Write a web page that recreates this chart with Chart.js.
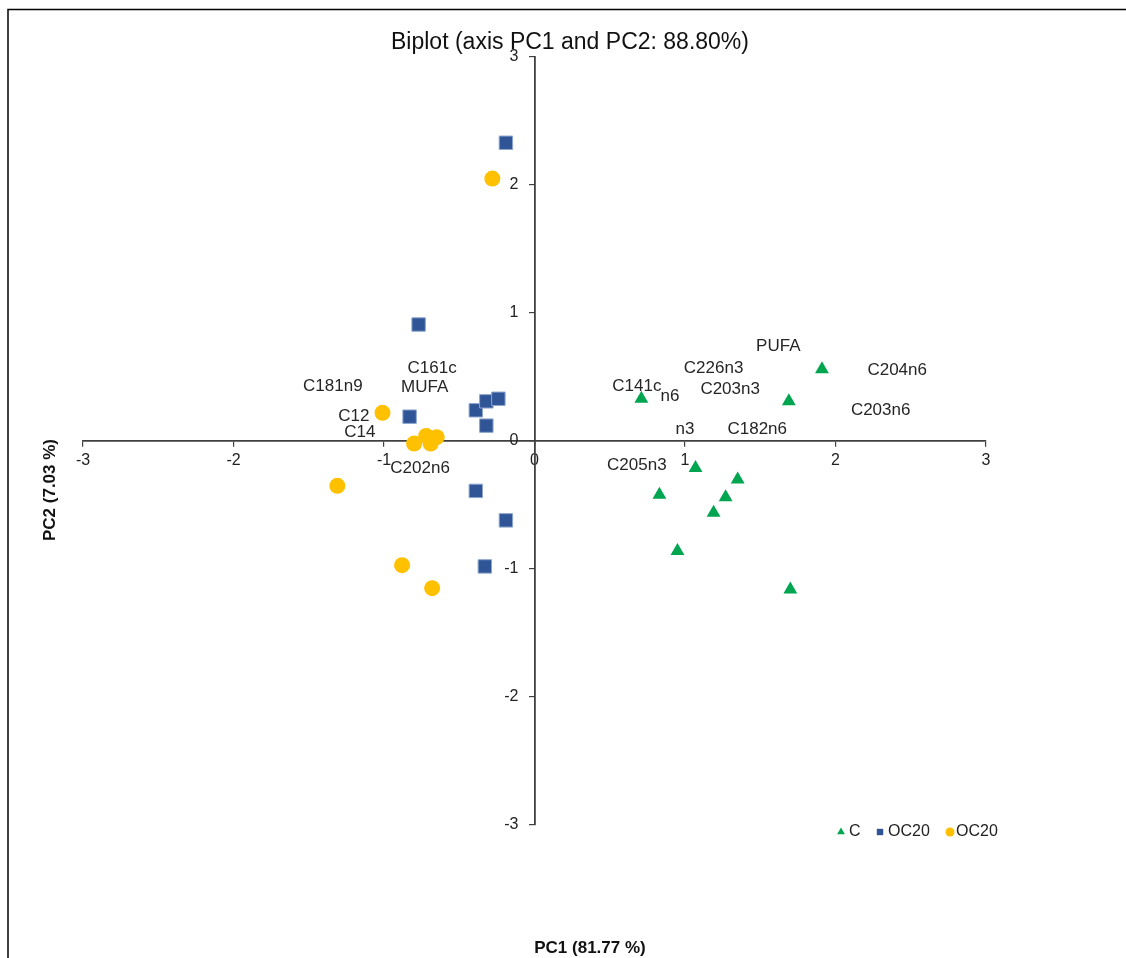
<!DOCTYPE html>
<html>
<head>
<meta charset="utf-8">
<title>Biplot</title>
<script src="https://cdn.jsdelivr.net/npm/chart.js@4.4.0/dist/chart.umd.min.js"></script>
<style>
  html, body { margin: 0; padding: 0; background: #fff; }
  #wrap { width: 1126px; height: 958px; }
</style>
</head>
<body>
<div id="wrap"><canvas id="myChart" width="1126" height="958"></canvas></div>
<script>
// scores of the observations
var cX = [0.71, 1.69, 1.91, 1.07, 1.35, 0.83, 1.27, 1.19, 0.95, 1.70];
var cY = [0.33, 0.31, 0.56, -0.21, -0.30, -0.42, -0.44, -0.56, -0.86, -1.16];

var oc20aX = [-0.19, -0.77, -0.83, -0.39, -0.32, -0.24, -0.32, -0.39, -0.19, -0.33];
var oc20aY = [2.33, 0.91, 0.19, 0.24, 0.31, 0.33, 0.12, -0.39, -0.62, -0.98];

var oc20bX = [-0.28, -1.01, -0.80, -0.72, -0.69, -0.65, -1.31, -0.88, -0.68];
var oc20bY = [2.05, 0.22, -0.02, 0.04, -0.02, 0.03, -0.35, -0.97, -1.15];

// variable labels
var varNames = ['C161c', 'MUFA', 'C181n9', 'C12', 'C14', 'C202n6', 'PUFA', 'C226n3', 'C204n6',
                'C141c', 'n6', 'C203n3', 'C203n6', 'n3', 'C182n6', 'C205n3'];
var varX = [-0.68, -0.73, -1.34, -1.20, -1.16, -0.76, 1.62, 1.19, 2.41, 0.68, 0.90, 1.30, 2.30, 1.00, 1.48, 0.68];
var varY = [0.57, 0.42, 0.43, 0.19, 0.07, -0.21, 0.74, 0.57, 0.55, 0.43, 0.35, 0.40, 0.24, 0.09, 0.09, -0.19];

var ticks = [-3, -2, -1, 0, 1, 2, 3];

var titleText = 'Biplot (axis PC1 and PC2: 88.80%)';
var xTitle = 'PC1 (81.77 %)';
var yTitle = 'PC2 (7.03 %)';

function pts(xs, ys) {
    return xs.map(function (x, i) { return { x: x, y: ys[i] }; });
}

var font = '"Liberation Sans", Arial, sans-serif';

var extras = {
    id: 'extras',
    beforeDraw: function (chart) {
        var ctx = chart.ctx;
        ctx.save();
        ctx.strokeStyle = '#000';
        ctx.lineWidth = 1.5;
        ctx.beginPath();
        ctx.moveTo(8, 958);
        ctx.lineTo(8, 9.5);
        ctx.lineTo(1126, 9.5);
        ctx.stroke();
        ctx.restore();

        // y labels of a crossing axis get no padding, push them left of the tick marks
        var items = chart.scales.y.getLabelItems();
        if (!items.shifted) {
            items.forEach(function (item) { item.options.translation[0] -= 16; });
            items.shifted = true;
        }
    },
    afterDraw: function (chart) {
        var ctx = chart.ctx;
        ctx.save();
        ctx.fillStyle = '#111';
        ctx.textAlign = 'center';
        ctx.textBaseline = 'alphabetic';
        ctx.font = '23px ' + font;
        ctx.fillText(titleText, 570, 49);

        ctx.font = 'bold 17px ' + font;
        ctx.textBaseline = 'middle';
        ctx.fillText(xTitle, 590, 948);
        ctx.save();
        ctx.translate(50, 490);
        ctx.rotate(-Math.PI / 2);
        ctx.fillText(yTitle, 0, 0);
        ctx.restore();

        // variable names
        var meta = chart.getDatasetMeta(3);
        ctx.font = '17px ' + font;
        ctx.fillStyle = '#262626';
        meta.data.forEach(function (el, i) {
            ctx.fillText(varNames[i], el.x, el.y);
        });

        // legend
        var lx = [841, 880, 950];
        var tx = [849, 888, 956];
        ctx.font = '16px ' + font;
        ctx.textAlign = 'left';
        for (var i = 0; i < 3; i++) {
            var ds = chart.data.datasets[i];
            ctx.fillStyle = ds.backgroundColor;
            ctx.strokeStyle = ds.backgroundColor;
            ctx.lineWidth = 1;
            Chart.helpers.drawPoint(ctx, { pointStyle: ds.pointStyle, radius: 4.5, rotation: 0 }, lx[i], 832);
            ctx.fillStyle = '#222';
            ctx.fillText(ds.label, tx[i], 832);
        }
        ctx.restore();
    }
};

var ctx = document.getElementById('myChart').getContext('2d');
var myChart = new Chart(ctx, {
    type: 'scatter',
    data: {
        datasets: [{
            label: 'C',
            data: pts(cX, cY),
            pointStyle: 'triangle',
            pointRadius: 8,
            backgroundColor: '#00A550',
            borderColor: '#00A550',
            borderWidth: 0
        }, {
            label: 'OC20',
            data: pts(oc20aX, oc20aY),
            pointStyle: 'rect',
            pointRadius: 9.5,
            backgroundColor: '#2F5597',
            borderColor: '#8FA6CF',
            borderWidth: 1
        }, {
            label: 'OC20',
            data: pts(oc20bX, oc20bY),
            pointStyle: 'circle',
            pointRadius: 8,
            backgroundColor: '#FFC000',
            borderColor: '#FFC000',
            borderWidth: 0
        }, {
            label: 'variables',
            data: pts(varX, varY),
            pointRadius: 0,
            pointHoverRadius: 0
        }]
    },
    options: {
        responsive: false,
        animation: false,
        devicePixelRatio: 1,
        layout: { padding: { left: 83, right: 140, top: 57, bottom: 133 } },
        plugins: {
            legend: { display: false },
            title: { display: false },
            tooltip: { enabled: false }
        },
        scales: {
            x: {
                type: 'linear',
                min: -3,
                max: 3,
                position: { y: 0 },
                afterBuildTicks: function (axis) {
                    axis.ticks = ticks.map(function (v) { return { value: v }; });
                },
                ticks: { color: '#222', padding: 5, font: { size: 16, family: font } },
                grid: { drawOnChartArea: false, tickLength: 5, color: '#404040', lineWidth: 1.2 },
                border: { color: '#404040', width: 1.8 }
            },
            y: {
                type: 'linear',
                min: -3,
                max: 3,
                position: { x: 0 },
                afterBuildTicks: function (axis) {
                    axis.ticks = ticks.map(function (v) { return { value: v }; });
                },
                ticks: { color: '#222', font: { size: 16, family: font } },
                grid: { drawOnChartArea: false, tickLength: 5, color: '#404040', lineWidth: 1.2 },
                border: { color: '#404040', width: 1.8 }
            }
        }
    },
    plugins: [extras]
});
</script>
</body>
</html>
